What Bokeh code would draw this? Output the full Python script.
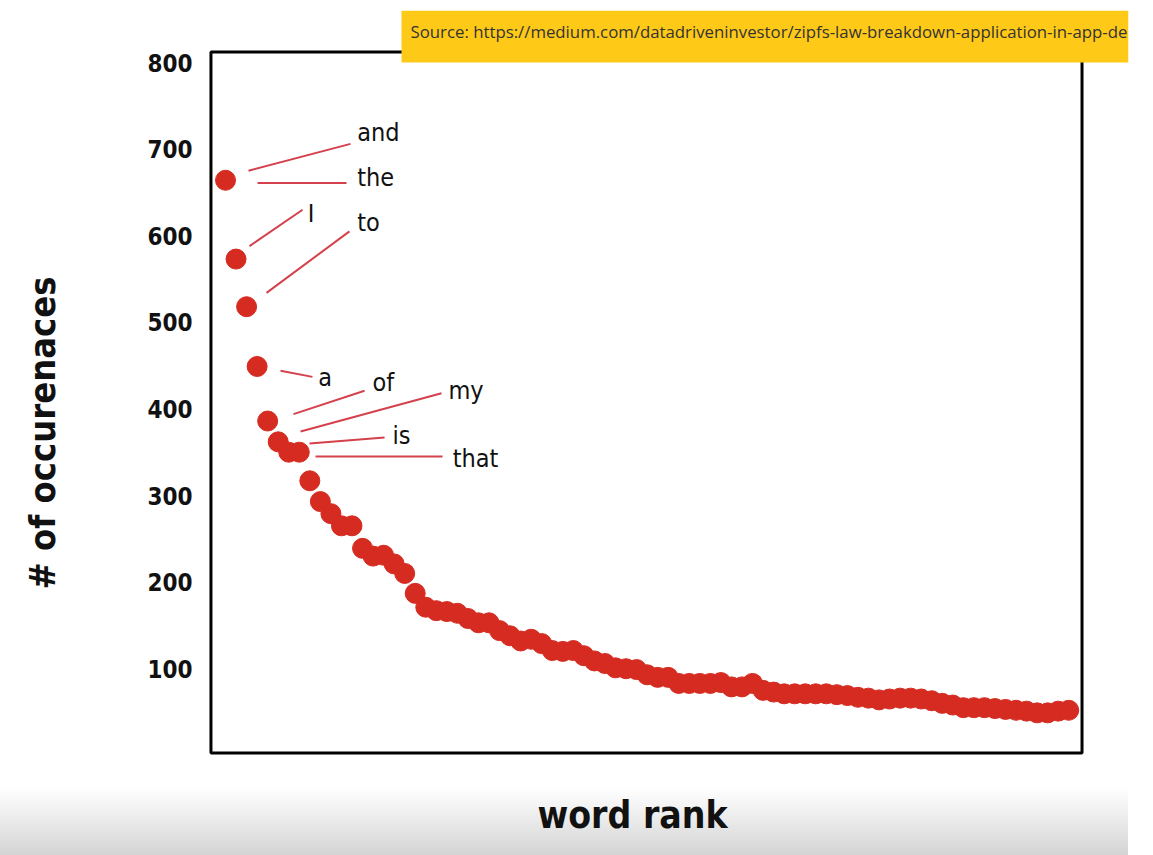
from bokeh.plotting import figure
from bokeh.models import Range1d, FixedTicker, BoxAnnotation, Label, ColumnDataSource
from bokeh.core.properties import value
from bokeh.embed import file_html
from bokeh.resources import INLINE

# ---- data ----
ranks = list(range(1, 82))
counts = [664, 573, 518, 449, 386, 362, 350, 350, 317, 293, 279, 265, 265, 239, 230, 231,
          221, 210, 187, 171, 167, 166, 164, 158, 153, 153, 144, 138, 132, 134, 129, 121,
          120, 121, 115, 109, 106, 101, 100, 99, 93, 90, 90, 83, 83, 83, 83, 84, 79, 79,
          83, 75, 73, 71, 71, 71, 71, 71, 70, 69, 67, 66, 64, 65, 66, 66, 65, 63, 60, 58,
          55, 55, 55, 54, 53, 52, 51, 49, 49, 51, 52]

words = ["and", "the", "I", "to", "a", "of", "my", "is", "that"]
word_x = [13.5, 13.5, 8.8, 13.5, 9.8, 14.95, 22.15, 16.85, 22.55]
word_y = [719, 667, 626, 615, 436, 430, 421, 369, 343]
line_x0 = [3.18, 4.04, 3.28, 4.89, 6.22, 7.45, 8.12, 8.97, 9.54]
line_y0 = [675, 661, 588, 534, 444, 394, 374, 360, 345]
line_x1 = [12.86, 12.48, 8.31, 12.76, 9.25, 14.19, 21.49, 16.09, 21.59]
line_y1 = [706, 661, 630, 605, 437, 421, 418, 367, 345]

y_ticks = [100, 200, 300, 400, 500, 600, 700, 800]
y_label = "# of occurenaces"
x_label = "word rank"
source_text = "Source: https://medium.com/datadriveninvestor/zipfs-law-breakdown-application-in-app-de"

# plot box (data units) and annotation anchors
box_left, box_right, box_bottom, box_top = -0.38, 82.26, 2.7, 812.1
src_left, src_right, src_bottom, src_top = 17.7, 86.67, 800, 860.05
src_text_x, src_text_y = 18.55, 835.5
xlab_x, xlab_y = 39.62, -69.5

NARROW = "DejaVu Sans Condensed"

p = figure(width=1153, height=855, output_backend="svg", toolbar_location=None,
           x_range=Range1d(-0.708, 86.67), y_range=Range1d(-115.7, 860.05),
           min_border_left=207, min_border_right=25, min_border_top=10, min_border_bottom=0)

p.styles = {"background": "linear-gradient(to right, rgba(255,255,255,0) 1128px, #ffffff 1128px), "
                          "linear-gradient(to bottom, #ffffff 0px, #ffffff 788px, #d4d4d4 855px)"}
p.border_fill_color = None
p.background_fill_color = None
p.outline_line_color = None
p.grid.visible = False
p.xaxis.visible = False

# y axis
p.yaxis.ticker = FixedTicker(ticks=y_ticks)
p.yaxis.axis_line_color = None
p.yaxis.major_tick_line_color = None
p.yaxis.minor_tick_line_color = None
p.yaxis.major_label_standoff = 9
p.yaxis.major_label_text_font = NARROW
p.yaxis.major_label_text_font_size = "24px"
p.yaxis.major_label_text_font_style = "bold"
p.yaxis.major_label_text_color = "#111111"
p.yaxis.axis_label = y_label
p.yaxis.axis_label_text_font = NARROW
p.yaxis.axis_label_text_font_size = "36px"
p.yaxis.axis_label_text_font_style = "bold"
p.yaxis.axis_label_text_color = "#111111"
p.yaxis.axis_label_standoff = 81

# plot frame drawn as box
p.quad(left=[box_left], right=[box_right], bottom=[box_bottom], top=[box_top],
       fill_color="white", line_color="black", line_width=3)

# leader lines
lsrc = ColumnDataSource(dict(x0=line_x0, y0=line_y0, x1=line_x1, y1=line_y1))
p.segment("x0", "y0", "x1", "y1", source=lsrc, line_color="#d4404c", line_width=2)

# points
p.scatter(ranks, counts, size=20, fill_color="#d52b21", line_color="#d52b21", line_width=1)

# word labels
wsrc = ColumnDataSource(dict(x=word_x, y=word_y, t=words))
p.text("x", "y", text="t", source=wsrc, text_font=value(NARROW), text_font_size="25px",
       text_baseline="middle", text_align="left", text_color="#111111")

# x axis title
p.add_layout(Label(x=xlab_x, y=xlab_y, text=x_label, text_font=NARROW, text_font_size="37px",
                   text_font_style="bold", text_color="#111111", text_align="center",
                   text_baseline="middle"))

# source box
p.add_layout(BoxAnnotation(left=src_left, right=src_right, bottom=src_bottom, top=src_top,
                           fill_color="#fec917", fill_alpha=1.0, line_color=None, level="overlay"))
p.add_layout(Label(x=src_text_x, y=src_text_y, text=source_text, text_font="Open Sans",
                   text_font_size="16.8px", text_color="#333333", text_baseline="middle",
                   level="overlay"))

open("out.html", "w").write(file_html(p, INLINE))
